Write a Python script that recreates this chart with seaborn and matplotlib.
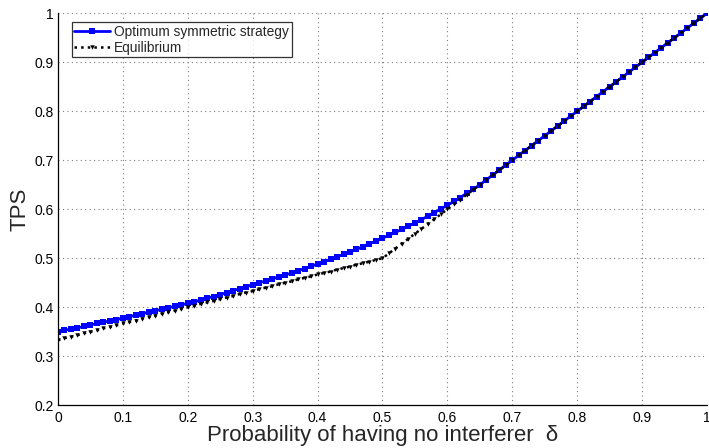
import matplotlib
matplotlib.use("Agg")
import matplotlib.pyplot as plt
import seaborn as sns
import pandas as pd

# Probability of having no interferer (delta), sampled every 0.01
delta = [round(i / 100, 2) for i in range(101)]

# Throughput under the optimum symmetric strategy
tps_optimum = [
    0.350, 0.353, 0.356, 0.358, 0.361, 0.364, 0.367, 0.370, 0.372, 0.375,
    0.378, 0.381, 0.384, 0.387, 0.390, 0.393, 0.396, 0.399, 0.402, 0.405,
    0.408, 0.411, 0.415, 0.419, 0.422, 0.426, 0.430, 0.434, 0.438, 0.442,
    0.446, 0.450, 0.454, 0.458, 0.462, 0.466, 0.470, 0.475, 0.479, 0.484,
    0.488, 0.493, 0.498, 0.503, 0.508, 0.513, 0.518, 0.524, 0.530, 0.535,
    0.541, 0.547, 0.553, 0.559, 0.566, 0.572, 0.579, 0.586, 0.593, 0.601,
    0.608, 0.616, 0.624, 0.633, 0.641, 0.650, 0.660, 0.670, 0.680, 0.690,
    0.700, 0.710, 0.720, 0.730, 0.740, 0.750, 0.760, 0.770, 0.780, 0.790,
    0.800, 0.810, 0.820, 0.830, 0.840, 0.850, 0.860, 0.870, 0.880, 0.890,
    0.900, 0.910, 0.920, 0.930, 0.940, 0.950, 0.960, 0.970, 0.980, 0.990,
    1.000,
]

# Throughput at the equilibrium
tps_equilibrium = [
    0.333, 0.337, 0.340, 0.343, 0.347, 0.350, 0.353, 0.357, 0.360, 0.363,
    0.367, 0.370, 0.373, 0.377, 0.380, 0.383, 0.387, 0.390, 0.393, 0.397,
    0.400, 0.403, 0.407, 0.410, 0.413, 0.417, 0.420, 0.423, 0.427, 0.430,
    0.433, 0.437, 0.440, 0.443, 0.447, 0.450, 0.453, 0.457, 0.460, 0.463,
    0.467, 0.470, 0.473, 0.477, 0.480, 0.483, 0.487, 0.490, 0.493, 0.497,
    0.500, 0.510, 0.520, 0.530, 0.540, 0.550, 0.560, 0.570, 0.580, 0.590,
    0.600, 0.610, 0.620, 0.630, 0.640, 0.650, 0.660, 0.670, 0.680, 0.690,
    0.700, 0.710, 0.720, 0.730, 0.740, 0.750, 0.760, 0.770, 0.780, 0.790,
    0.800, 0.810, 0.820, 0.830, 0.840, 0.850, 0.860, 0.870, 0.880, 0.890,
    0.900, 0.910, 0.920, 0.930, 0.940, 0.950, 0.960, 0.970, 0.980, 0.990,
    1.000,
]

series_names = ["Optimum symmetric strategy", "Equilibrium"]
x_ticks = [0, 0.1, 0.2, 0.3, 0.4, 0.5, 0.6, 0.7, 0.8, 0.9, 1]
y_ticks = [0.2, 0.3, 0.4, 0.5, 0.6, 0.7, 0.8, 0.9, 1]
x_tick_labels = ["0", "0.1", "0.2", "0.3", "0.4", "0.5", "0.6", "0.7", "0.8", "0.9", "1"]
y_tick_labels = ["0.2", "0.3", "0.4", "0.5", "0.6", "0.7", "0.8", "0.9", "1"]

df = pd.DataFrame({"delta": delta, "optimum": tps_optimum, "equilibrium": tps_equilibrium})

sns.set_style("white")
plt.rcParams["font.family"] = ["Liberation Sans", "DejaVu Sans"]
plt.rcParams["xtick.direction"] = "in"
plt.rcParams["ytick.direction"] = "in"

fig = plt.figure(figsize=(7.09, 4.48), dpi=100)
ax = fig.add_axes([0.0818, 0.0953, 0.9152, 0.875])

sns.lineplot(data=df, x="delta", y="optimum", ax=ax, color="#0000ff",
             linewidth=2.0, linestyle="-", marker="s", markersize=4.5,
             markeredgewidth=0, label=series_names[0])
sns.lineplot(data=df, x="delta", y="equilibrium", ax=ax, color="black",
             linewidth=1.8, linestyle=":", marker="v", markersize=3.2,
             markeredgewidth=0, label=series_names[1])

ax.set_xlim(0, 1)
ax.set_ylim(0.2, 1)
ax.set_xticks(x_ticks)
ax.set_xticklabels(x_tick_labels)
ax.set_yticks(y_ticks)
ax.set_yticklabels(y_tick_labels)
ax.tick_params(axis="both", labelsize=10, length=4, width=0.8,
               colors="black")
ax.tick_params(axis="x", pad=4)
ax.tick_params(axis="y", pad=3)

ax.grid(True, linestyle=(0, (1, 3)), color="#7f7f7f", linewidth=0.8)
for side in ("top", "right"):
    ax.spines[side].set_visible(False)
for side in ("left", "bottom"):
    ax.spines[side].set_color("black")
    ax.spines[side].set_linewidth(0.9)

ax.set_xlabel("Probability of having no interferer  δ", fontsize=16, labelpad=0)
ax.set_ylabel("TPS", fontsize=16, labelpad=3)

leg = ax.legend(loc="upper left", bbox_to_anchor=(0.021, 0.978), fontsize=9.9,
                frameon=True, fancybox=False, borderpad=0.2, labelspacing=0.15,
                handlelength=2.6, handletextpad=0.3, borderaxespad=0)
leg.get_frame().set_edgecolor("black")
leg.get_frame().set_linewidth(0.9)

fig.savefig("out.png", dpi=100)
